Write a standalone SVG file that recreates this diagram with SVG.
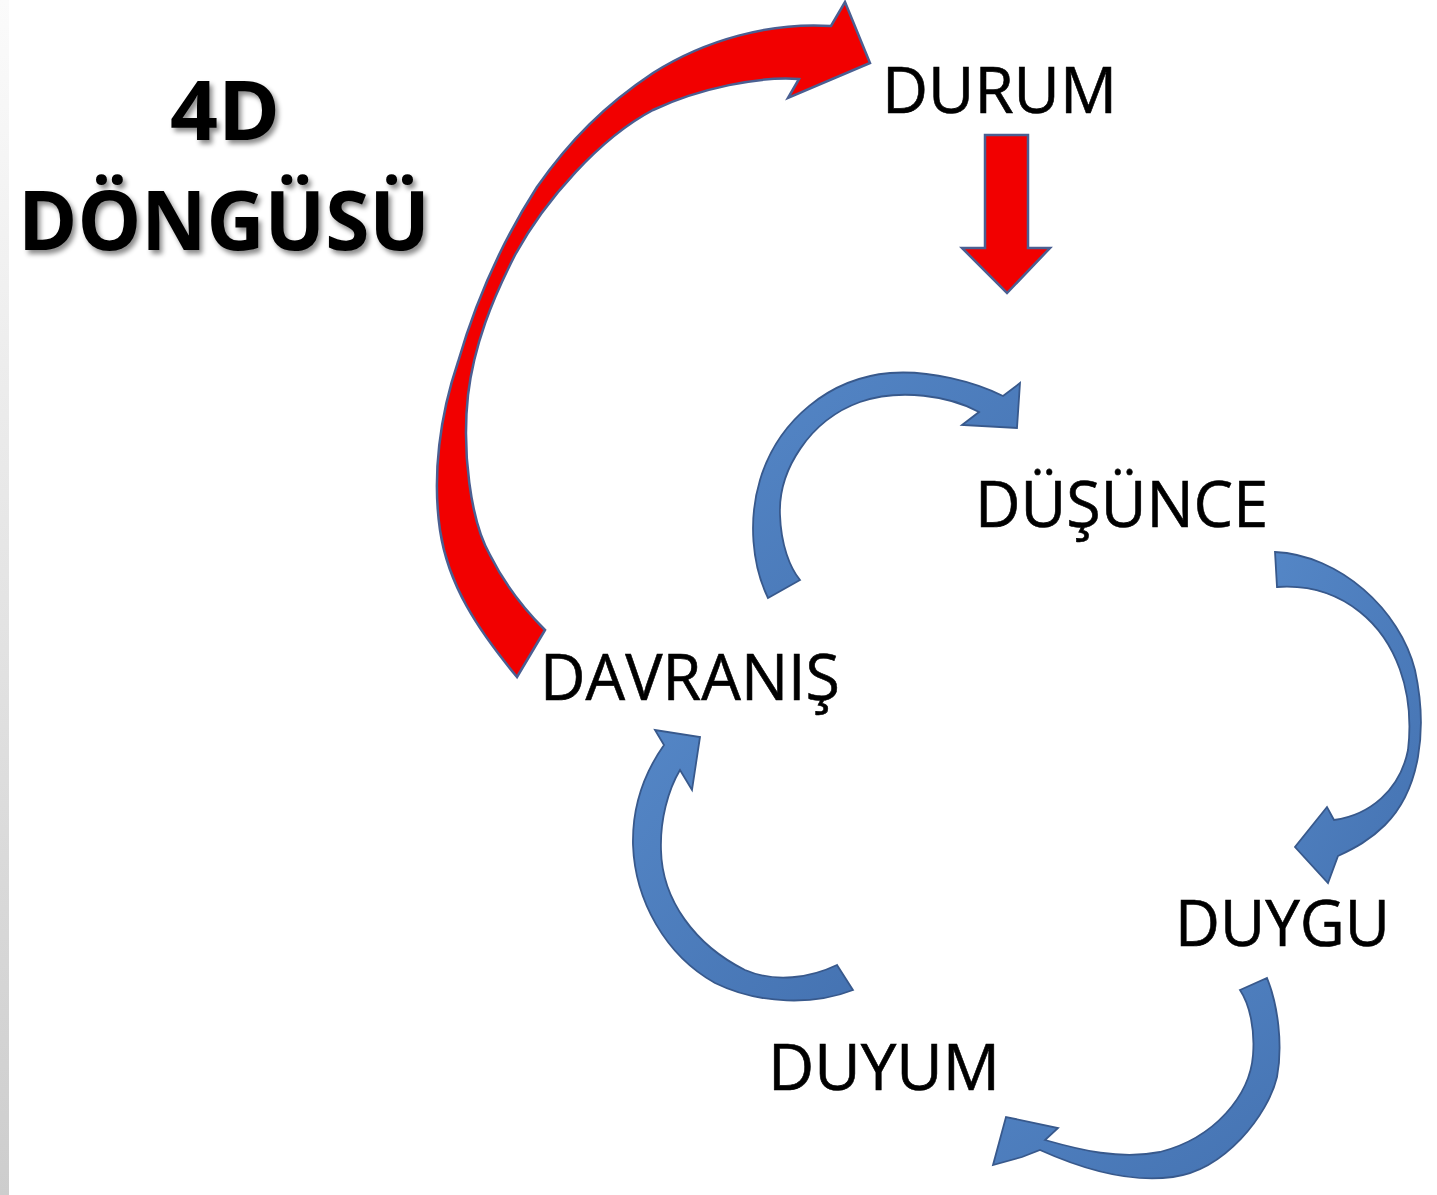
<svg xmlns="http://www.w3.org/2000/svg" width="1437" height="1195" viewBox="0 0 1437 1195">
  <defs>
    <linearGradient id="edge" x1="0" y1="0" x2="0" y2="1">
      <stop offset="0" stop-color="#fbfbfb"/>
      <stop offset="1" stop-color="#cdcdcd"/>
    </linearGradient>
    <linearGradient id="blueFill" x1="0" y1="0" x2="1" y2="1">
      <stop offset="0" stop-color="#5486c6"/>
      <stop offset="1" stop-color="#4573b2"/>
    </linearGradient>
    <filter id="shadow" x="-10%" y="-20%" width="130%" height="150%">
      <feDropShadow dx="3" dy="4" stdDeviation="2.5" flood-color="#000" flood-opacity="0.45"/>
    </filter>
  </defs>
  <style>
    .red { fill: #f20000; stroke: #4a5f92; stroke-width: 2.5; stroke-linejoin: miter; }
    .blue { fill: url(#blueFill); stroke: #38598c; stroke-width: 1.8; stroke-linejoin: miter; }
    .label { font-family: "Open Sans", "Liberation Sans", sans-serif; font-size: 64px; fill: #000; stroke: #000; stroke-width: 0.6; }
    .title { font-family: "Open Sans", "Liberation Sans", sans-serif; font-weight: bold; font-size: 82px; fill: #000; filter: url(#shadow); }
  </style>

  <rect x="0" y="0" width="1437" height="1195" fill="#ffffff"/>
  <rect x="0" y="0" width="9" height="1195" fill="url(#edge)"/>

  <g id="title">
    <text class="title" x="170" y="140" textLength="110" lengthAdjust="spacingAndGlyphs">4D</text>
    <text class="title" x="18" y="250" textLength="412" lengthAdjust="spacingAndGlyphs">DÖNGÜSÜ</text>
  </g>

  <g id="connectors">
    <!-- DAVRANIŞ -> DURUM (red) -->
    <path class="red" d="M545,630 L517,677
      C478,630 448,585 440,530
      C432,475 440,415 458,362
      C476,300 503,240 537,187
      C570,140 605,105 653,73
      C705,40 770,22 831,26
      L845,2 L870,63 L788,98 L799,79
      C760,76 700,88 653,110
      C600,138 545,200 515,255
      C492,300 474,345 468,395
      C462,450 470,520 490,555
      C505,585 525,610 545,630 Z"/>
    <!-- DURUM -> DÜŞÜNCE (red straight) -->
    <path class="red" d="M985,135 L1028,135 L1028,248 L1050,248 L1007,293 L962,248 L985,248 Z"/>
    <!-- DAVRANIŞ -> DÜŞÜNCE -->
    <path class="blue" d="M800,580 L768,598
      C752,565 748,520 760,480
      C778,420 830,378 890,373
      C930,370 975,382 1003,396
      L1020,383 L1017,428 L962,425 L979,412
      C950,396 900,388 860,402
      C810,420 778,470 780,515
      C781,545 790,568 800,580 Z"/>
    <!-- DÜŞÜNCE -> DUYGU -->
    <path class="blue" d="M1277,587 L1275,552
      C1340,555 1400,610 1415,670
      C1428,730 1420,790 1385,825
      C1370,840 1355,848 1338,856
      L1328,883 L1295,847 L1327,807 L1334,820
      C1370,815 1400,790 1408,750
      C1415,690 1395,640 1360,612
      C1335,592 1305,585 1277,587 Z"/>
    <!-- DUYGU -> DUYUM -->
    <path class="blue" d="M1240,990 L1267,978
      C1278,1005 1283,1045 1277,1077
      C1268,1115 1225,1170 1173,1177
      C1130,1183 1080,1168 1040,1150
      L1022,1157 L993,1165 L1006,1117 L1058,1128 L1045,1140
      C1080,1150 1120,1160 1160,1152
      C1215,1138 1250,1095 1253,1055
      C1255,1030 1250,1005 1240,990 Z"/>
    <!-- DUYUM -> DAVRANIŞ -->
    <path class="blue" d="M837,965 L853,990
      C815,1005 760,1005 715,983
      C665,955 635,900 633,845
      C632,805 645,772 664,745
      L655,730 L700,737 L692,790 L680,770
      C668,790 660,820 661,850
      C662,900 695,945 745,970
      C775,983 810,978 837,965 Z"/>
  </g>

  <g id="node-durum">
    <text class="label" x="882" y="113" textLength="235" lengthAdjust="spacingAndGlyphs">DURUM</text>
  </g>
  <g id="node-dusunce">
    <text class="label" x="975" y="527" textLength="293" lengthAdjust="spacingAndGlyphs">DÜŞÜNCE</text>
  </g>
  <g id="node-davranis">
    <text class="label" x="540" y="700" textLength="300" lengthAdjust="spacingAndGlyphs">DAVRANIŞ</text>
  </g>
  <g id="node-duygu">
    <text class="label" x="1175" y="946" textLength="215" lengthAdjust="spacingAndGlyphs">DUYGU</text>
  </g>
  <g id="node-duyum">
    <text class="label" x="768" y="1090" textLength="232" lengthAdjust="spacingAndGlyphs">DUYUM</text>
  </g>
</svg>
